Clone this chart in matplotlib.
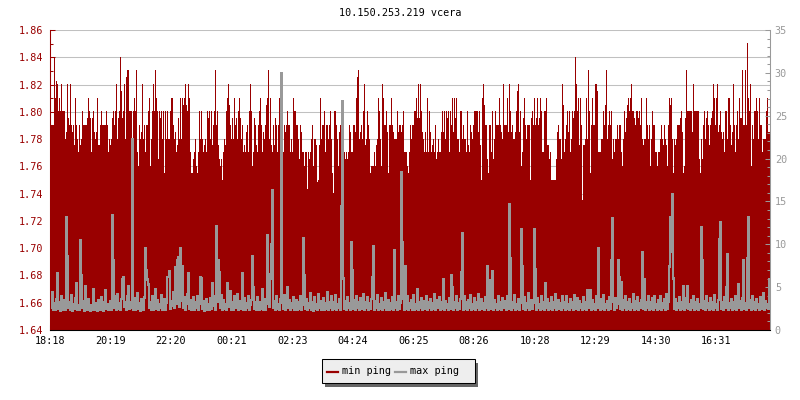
import numpy as np
import matplotlib
matplotlib.use("Agg")
import matplotlib.pyplot as plt
from matplotlib.patches import Rectangle
from matplotlib.lines import Line2D

###############################################################################
# data: one sample per 2 minutes, starting 18:18
title = "10.150.253.219 vcera"
series_names = ["min ping", "max ping"]

time_labels = ["18:18", "20:19", "22:20", "00:21", "02:23", "04:24",
               "06:25", "08:26", "10:28", "12:29", "14:30", "16:31"]
left_ticks = [1.64, 1.66, 1.68, 1.70, 1.72, 1.74, 1.76, 1.78, 1.80, 1.82, 1.84, 1.86]
right_ticks = [0, 5, 10, 15, 20, 25, 30, 35]
sample_minutes = 2

# min ping (ms), left axis
min_ping = [
    1.79, 1.79, 1.79, 1.79, 1.84, 1.81, 1.822, 1.82, 1.80, 1.81,
    1.80, 1.82, 1.80, 1.80, 1.80, 1.78, 1.785, 1.82, 1.795, 1.79,
    1.82, 1.79, 1.785, 1.79, 1.775, 1.81, 1.79, 1.78, 1.77, 1.79,
    1.775, 1.78, 1.80, 1.79, 1.79, 1.79, 1.79, 1.795, 1.81, 1.80,
    1.795, 1.77, 1.795, 1.80, 1.785, 1.78, 1.785, 1.81, 1.775, 1.775,
    1.79, 1.80, 1.79, 1.79, 1.79, 1.79, 1.80, 1.79, 1.77, 1.78,
    1.775, 1.78, 1.795, 1.80, 1.79, 1.80, 1.82, 1.78, 1.795, 1.80,
    1.84, 1.815, 1.795, 1.80, 1.82, 1.78, 1.825, 1.83, 1.83, 1.80,
    1.80, 1.80, 1.78, 1.80, 1.81, 1.80, 1.83, 1.77, 1.76, 1.79,
    1.78, 1.785, 1.82, 1.78, 1.79, 1.77, 1.79, 1.79, 1.80, 1.81,
    1.76, 1.78, 1.80, 1.82, 1.80, 1.83, 1.81, 1.80, 1.765, 1.80,
    1.795, 1.80, 1.78, 1.80, 1.755, 1.80, 1.78, 1.80, 1.78, 1.78,
    1.80, 1.81, 1.81, 1.79, 1.78, 1.785, 1.77, 1.775, 1.795, 1.78,
    1.81, 1.78, 1.81, 1.805, 1.81, 1.82, 1.805, 1.80, 1.82, 1.81,
    1.77, 1.755, 1.755, 1.765, 1.77, 1.78, 1.76, 1.755, 1.77, 1.80,
    1.78, 1.80, 1.78, 1.77, 1.775, 1.78, 1.77, 1.80, 1.795, 1.80,
    1.78, 1.80, 1.775, 1.79, 1.80, 1.83, 1.79, 1.80, 1.775, 1.765,
    1.76, 1.765, 1.75, 1.77, 1.78, 1.775, 1.80, 1.81, 1.82, 1.805,
    1.79, 1.78, 1.795, 1.78, 1.81, 1.79, 1.795, 1.78, 1.80, 1.81,
    1.795, 1.78, 1.79, 1.77, 1.775, 1.77, 1.785, 1.79, 1.77, 1.80,
    1.82, 1.80, 1.76, 1.77, 1.795, 1.79, 1.775, 1.77, 1.79, 1.80,
    1.81, 1.79, 1.77, 1.785, 1.78, 1.79, 1.805, 1.81, 1.83, 1.78,
    1.81, 1.775, 1.77, 1.79, 1.775, 1.795, 1.79, 1.77, 1.79, 1.81,
    1.77, 1.77, 1.77, 1.77, 1.79, 1.785, 1.79, 1.80, 1.79, 1.79,
    # 02:18 ->
    1.77, 1.78, 1.77, 1.81, 1.80, 1.80, 1.79, 1.79, 1.78, 1.765,
    1.79, 1.785, 1.77, 1.77, 1.76, 1.77, 1.77, 1.743, 1.77, 1.765,
    1.77, 1.78, 1.79, 1.76, 1.78, 1.78, 1.775, 1.748, 1.75, 1.775,
    1.81, 1.78, 1.79, 1.79, 1.80, 1.77, 1.79, 1.79, 1.78, 1.79,
    1.80, 1.78, 1.755, 1.74, 1.80, 1.80, 1.79, 1.78, 1.76, 1.785,
    1.79, 1.78, 1.77, 1.79, 1.77, 1.765, 1.77, 1.765, 1.77, 1.79,
    1.785, 1.77, 1.77, 1.79, 1.79, 1.785, 1.81, 1.825, 1.83, 1.78,
    1.785, 1.79, 1.78, 1.80, 1.82, 1.775, 1.78, 1.80, 1.79, 1.78,
    1.755, 1.76, 1.76, 1.76, 1.77, 1.76, 1.775, 1.78, 1.81, 1.80,
    1.78, 1.76, 1.82, 1.81, 1.79, 1.79, 1.80, 1.785, 1.755, 1.79,
    1.79, 1.81, 1.79, 1.785, 1.78, 1.78, 1.78, 1.80, 1.785, 1.79,
    1.79, 1.785, 1.79, 1.80, 1.77, 1.77, 1.77, 1.76, 1.755, 1.77,
    1.79, 1.78, 1.79, 1.79, 1.80, 1.80, 1.81, 1.795, 1.82, 1.795,
    1.82, 1.80, 1.785, 1.78, 1.77, 1.785, 1.77, 1.81, 1.77, 1.80,
    1.785, 1.77, 1.775, 1.78, 1.77, 1.79, 1.765, 1.77, 1.78, 1.77,
    1.77, 1.785, 1.80, 1.785, 1.80, 1.78, 1.80, 1.795, 1.80, 1.77,
    1.80, 1.79, 1.81, 1.785, 1.81, 1.795, 1.81, 1.78, 1.78, 1.77,
    1.80, 1.80, 1.78, 1.79, 1.78, 1.78, 1.77, 1.80, 1.775, 1.77,
    1.79, 1.785, 1.78, 1.79, 1.80, 1.80, 1.80, 1.80, 1.785, 1.80,
    1.775, 1.75, 1.81, 1.82, 1.805, 1.79, 1.79, 1.765, 1.755, 1.79,
    1.79, 1.77, 1.80, 1.765, 1.78, 1.80, 1.79, 1.79, 1.79, 1.81,
    1.79, 1.785, 1.78, 1.82, 1.79, 1.79, 1.79, 1.81, 1.785, 1.82,
    1.80, 1.785, 1.79, 1.78, 1.78, 1.785, 1.80, 1.815, 1.82, 1.785,
    1.80, 1.76, 1.77, 1.795, 1.81, 1.79, 1.78, 1.79, 1.79, 1.79,
    # 10:18 ->
    1.75, 1.795, 1.80, 1.79, 1.81, 1.79, 1.795, 1.81, 1.79, 1.795,
    1.81, 1.80, 1.77, 1.77, 1.80, 1.80, 1.81, 1.775, 1.775, 1.765,
    1.77, 1.75, 1.75, 1.75, 1.75, 1.75, 1.765, 1.785, 1.79, 1.78,
    1.78, 1.765, 1.82, 1.805, 1.77, 1.78, 1.79, 1.80, 1.785, 1.80,
    1.77, 1.78, 1.80, 1.795, 1.80, 1.84, 1.82, 1.80, 1.81, 1.775,
    1.81, 1.79, 1.735, 1.775, 1.775, 1.78, 1.81, 1.78, 1.83, 1.80,
    1.755, 1.79, 1.81, 1.79, 1.79, 1.82, 1.82, 1.815, 1.77, 1.77,
    1.77, 1.78, 1.78, 1.80, 1.79, 1.805, 1.83, 1.78, 1.79, 1.80,
    1.79, 1.80, 1.765, 1.78, 1.77, 1.78, 1.78, 1.79, 1.78, 1.79,
    1.79, 1.77, 1.76, 1.78, 1.80, 1.785, 1.795, 1.805, 1.81, 1.80,
    1.81, 1.82, 1.80, 1.80, 1.795, 1.79, 1.80, 1.80, 1.795, 1.80,
    1.79, 1.81, 1.78, 1.775, 1.78, 1.78, 1.81, 1.79, 1.78, 1.79,
    1.76, 1.78, 1.80, 1.79, 1.79, 1.77, 1.77, 1.76, 1.77, 1.77,
    1.78, 1.79, 1.78, 1.775, 1.79, 1.78, 1.775, 1.76, 1.79, 1.81,
    1.805, 1.81, 1.78, 1.755, 1.78, 1.775, 1.78, 1.79, 1.79, 1.79,
    1.795, 1.80, 1.785, 1.755, 1.76, 1.795, 1.83, 1.80, 1.80, 1.80,
    1.80, 1.80, 1.785, 1.82, 1.80, 1.80, 1.80, 1.80, 1.80, 1.765,
    1.755, 1.78, 1.765, 1.79, 1.80, 1.78, 1.795, 1.80, 1.79, 1.775,
    1.79, 1.795, 1.80, 1.82, 1.81, 1.79, 1.81, 1.82, 1.785, 1.79,
    1.80, 1.785, 1.78, 1.785, 1.77, 1.80, 1.80, 1.78, 1.81, 1.81,
    1.79, 1.775, 1.785, 1.82, 1.79, 1.77, 1.79, 1.80, 1.78, 1.81,
    1.795, 1.795, 1.83, 1.79, 1.79, 1.83, 1.79, 1.85, 1.81, 1.80,
    1.82, 1.76, 1.79, 1.78, 1.80, 1.80, 1.81, 1.80, 1.78, 1.81,
    1.79, 1.79, 1.77, 1.78, 1.78, 1.78, 1.80, 1.81, 1.785, 1.785,
]

# max ping (ms), right axis
max_ping = [
    3.8, 2.6, 4.4, 2.3, 3.1, 2.4, 3.6, 6.6, 2.5, 3.2, 2.2, 3.9, 2.7, 2.4, 3.5, 2.3, 13.2, 8.6, 2.6, 3.3,
    2.4, 4.1, 2.2, 3.0, 2.5, 3.7, 5.5, 2.3, 2.9, 2.4, 10.5, 6.4, 2.6, 3.4, 2.2, 5.1, 2.8, 2.3, 3.6, 2.5,
    2.2, 2.9, 2.4, 4.8, 2.3, 3.1, 2.5, 2.2, 3.5, 2.7, 2.3, 3.8, 2.4, 2.2, 3.2, 4.7, 2.5, 3.0, 2.3, 2.6,
    3.4, 2.4, 13.4, 8.2, 2.6, 3.9, 2.3, 4.2, 2.5, 3.1, 2.4, 3.6, 5.9, 6.2, 2.7, 3.3, 2.3, 4.0, 5.1, 2.5,
    3.2, 2.6, 22.3, 2.4, 3.7, 2.3, 2.9, 4.3, 2.5, 3.1, 2.2, 3.6, 2.7, 2.4, 3.8, 9.6, 7.0, 5.9, 5.3, 2.6,
    3.3, 2.4, 3.9, 2.3, 2.8, 4.8, 2.5, 3.5, 2.3, 3.0, 2.6, 4.1, 2.4, 2.9, 3.6, 2.3, 3.2, 6.2, 6.2, 6.9,
    2.5, 3.4, 2.8, 4.4, 2.6, 7.3, 3.0, 8.2, 8.5, 2.7, 9.6, 3.4, 7.4, 2.6, 3.8, 2.4, 3.1, 4.2, 6.6, 2.5,
    3.5, 2.3, 2.9, 3.8, 2.4, 3.2, 2.6, 4.0, 2.3, 3.1, 6.2, 6.1, 2.5, 3.4, 2.2, 2.9, 3.6, 2.4, 3.0, 2.3,
    3.7, 2.5, 5.5, 2.8, 3.9, 2.4, 12.1, 3.3, 8.2, 6.8, 2.6, 4.1, 2.3, 3.5, 2.5, 3.0, 2.4, 5.5, 2.7, 3.8,
    4.5, 2.4, 3.2, 2.3, 3.9, 2.6, 2.9, 4.2, 2.4, 3.4, 2.5, 3.0, 6.6, 2.4, 3.7, 2.3, 3.1, 2.6, 4.0, 2.4,
    2.9, 3.5, 8.6, 5.0, 2.5, 3.2, 2.3, 3.8, 2.6, 2.4, 3.3, 2.5, 4.8, 2.4, 3.6, 2.3, 3.1, 11.1, 6.5, 2.7,
    6.0, 10.0, 16.3, 2.6, 3.4, 2.3, 3.9, 2.5, 3.0, 2.4, 3.6, 30.0, 3.2, 2.5, 4.1, 2.3, 2.9, 5.0, 2.6, 3.5,
    2.4, 3.1, 2.6, 3.8, 2.3, 2.8, 3.5, 2.4, 3.2, 2.5, 4.0, 2.3, 2.9, 10.7, 6.4, 2.5, 3.6, 2.3, 3.1, 2.6,
    4.3, 2.4, 3.3, 2.2, 3.8, 2.5, 3.0, 2.4, 4.2, 2.6, 3.4, 2.3, 2.9, 3.7, 2.4, 3.1, 2.5, 4.4, 2.3, 3.2,
    2.6, 3.9, 2.4, 3.3, 2.5, 4.1, 2.3, 3.0, 2.6, 3.6, 2.4, 14.4, 26.7, 6.0, 2.5, 3.4, 2.3, 3.8, 2.6, 3.1,
    2.4, 10.3, 7.0, 2.5, 3.5, 2.3, 4.0, 2.6, 3.2, 2.4, 3.7, 2.5, 2.9, 4.2, 2.4, 3.3, 2.6, 3.8, 2.3, 3.1,
    2.5, 3.6, 6.2, 9.8, 2.4, 3.4, 2.6, 4.1, 2.3, 3.0, 2.5, 3.7, 2.4, 3.2, 2.6, 4.3, 2.4, 2.9, 3.5, 2.3,
    3.1, 2.5, 3.8, 2.4, 9.3, 2.6, 3.3, 2.3, 4.0, 2.5, 3.2, 18.4, 10.3, 3.6, 2.4, 7.4, 2.5, 3.9, 2.3, 3.1,
    2.6, 3.5, 2.4, 4.1, 2.3, 3.0, 2.5, 4.8, 2.4, 3.3, 2.6, 3.7, 2.3, 2.9, 3.4, 2.5, 4.0, 2.4, 3.2, 2.6,
    3.6, 2.3, 3.1, 2.5, 4.2, 2.4, 2.9, 3.5, 2.6, 3.8, 2.3, 3.2, 2.5, 5.9, 2.4, 3.4, 2.6, 3.0, 2.3, 3.7,
    2.5, 6.4, 5.0, 2.4, 3.3, 2.6, 4.0, 2.3, 3.1, 2.5, 3.6, 6.8, 11.3, 2.4, 3.9, 2.5, 3.2, 2.3, 3.5, 2.6,
    4.1, 2.4, 3.0, 2.5, 3.7, 2.3, 3.3, 2.6, 4.2, 2.4, 2.9, 3.6, 2.5, 3.1, 2.3, 3.8, 2.6, 7.4, 2.4, 3.4,
    5.8, 2.5, 6.9, 2.3, 3.5, 2.6, 3.0, 2.4, 4.0, 2.5, 3.2, 2.3, 3.7, 2.6, 2.9, 3.4, 2.4, 3.9, 2.5, 14.7,
    8.4, 2.4, 3.3, 2.6, 4.1, 2.3, 3.0, 2.5, 3.6, 2.4, 3.2, 11.8, 7.4, 2.5, 3.8, 2.3, 3.1, 2.6, 4.3, 2.4,
    2.9, 3.5, 2.5, 3.2, 11.8, 7.1, 2.4, 3.7, 2.6, 3.0, 2.3, 4.0, 2.5, 3.3, 2.4, 5.5, 2.6, 3.6, 2.3, 3.1,
    2.5, 3.8, 2.4, 3.2, 2.6, 4.2, 2.3, 2.9, 3.5, 2.5, 3.1, 2.4, 3.9, 2.6, 3.3, 2.3, 4.0, 2.5, 3.0, 2.4,
    3.6, 2.6, 3.2, 2.3, 4.1, 2.5, 2.9, 3.7, 2.4, 3.4, 2.6, 3.0, 2.3, 3.8, 2.5, 3.3, 2.4, 4.7, 2.6, 3.1,
    4.6, 2.4, 3.5, 2.5, 3.0, 2.3, 3.9, 2.6, 9.5, 3.2, 2.4, 3.6, 2.5, 4.1, 2.3, 3.0, 2.6, 3.4, 2.4, 3.8,
    2.5, 8.2, 13.0, 3.3, 2.4, 3.7, 2.6, 3.1, 8.2, 6.2, 2.5, 5.6, 2.4, 3.5, 2.6, 4.0, 2.3, 3.2, 2.5, 3.6,
    2.4, 3.0, 2.6, 4.2, 2.3, 3.4, 2.5, 3.8, 2.4, 3.1, 2.6, 3.5, 9.1, 2.5, 5.9, 2.4, 3.3, 2.6, 3.9, 2.3,
    3.2, 2.5, 3.7, 2.4, 4.0, 2.6, 3.0, 2.3, 3.5, 2.5, 3.9, 2.4, 3.1, 2.6, 3.6, 2.3, 4.2, 2.5, 3.3, 7.4,
    13.2, 9.1, 15.9, 6.0, 2.5, 3.6, 2.4, 3.1, 2.6, 3.8, 2.3, 3.3, 2.5, 5.1, 2.4, 3.7, 2.6, 5.1, 2.5, 3.0,
    2.4, 3.5, 2.6, 4.0, 2.3, 3.2, 2.5, 3.6, 2.4, 3.0, 2.6, 12.0, 8.2, 2.5, 3.4, 2.3, 3.9, 2.6, 3.1, 2.4,
    3.7, 2.5, 3.2, 2.4, 4.1, 2.6, 3.0, 2.3, 3.5, 10.6, 12.6, 2.5, 3.3, 2.4, 3.8, 2.6, 5.0, 8.9, 2.4, 3.1,
    2.6, 3.6, 2.3, 3.2, 2.5, 4.0, 2.4, 3.0, 5.4, 2.6, 3.4, 2.3, 3.7, 8.1, 2.5, 3.1, 2.4, 8.4, 13.2, 2.6,
    3.5, 2.3, 3.9, 2.5, 3.2, 2.4, 3.6, 2.6, 3.0, 2.4, 3.8, 2.5, 3.1, 4.3, 2.4, 3.4, 2.6, 3.0, 2.5, 5.9,
]

###############################################################################
RED = "#990000"
GRAY = "#999999"
FONT = "DejaVu Sans Mono"
FS = 7.3

plt.rcParams["font.family"] = FONT


def label_minutes(lbl, start):
    h, m = lbl.split(":")
    return (int(h) * 60 + int(m) - start) % 1440


start = label_minutes(time_labels[0], 0)
tick_pos = [label_minutes(l, start) for l in time_labels]

fig = plt.figure(figsize=(8, 4), dpi=100)
ax = fig.add_axes([50 / 800, 70 / 400, 720 / 800, 300 / 400])
ax2 = ax.twinx()

edges_min = np.arange(len(min_ping) + 1) * sample_minutes
edges_max = np.arange(len(max_ping) + 1) * sample_minutes

ax.stairs(min_ping, edges_min, baseline=1.64, fill=True, color=RED,
          linewidth=0, antialiased=False, zorder=2)
ax2.stairs(max_ping, edges_max, baseline=None, color=GRAY,
           linewidth=1.0, antialiased=False)

ax.set_xlim(0, 1440)
ax.set_ylim(1.64, 1.86)
ax2.set_ylim(0, 35)

# grid
ax.set_axisbelow(True)
ax.yaxis.grid(True, color="#c0c0c0", linewidth=0.75)
ax.xaxis.grid(False)

# left axis
ax.set_yticks(left_ticks)
ax.set_yticklabels(["%.2f" % v for v in left_ticks])
ax.set_yticks([v + 0.01 for v in left_ticks[:-1]], minor=True)
ax.tick_params(axis="y", which="major", direction="in", length=3.6, width=0.75,
               color=RED, labelcolor=RED, labelsize=FS, pad=4.5)
ax.tick_params(axis="y", which="minor", direction="in", length=2.2, width=0.75,
               color=RED)

# right axis
ax2.set_yticks(right_ticks)
ax2.set_yticks([v for v in range(0, 36) if v % 5 != 0], minor=True)
ax2.tick_params(axis="y", which="major", direction="in", length=3.6, width=0.75,
                color=GRAY, labelcolor=GRAY, labelsize=FS, pad=3.5)
ax2.tick_params(axis="y", which="minor", direction="in", length=2.2, width=0.75,
                color=GRAY)

# time axis
ax.set_xticks(tick_pos)
ax.set_xticklabels(time_labels)
ax.tick_params(axis="x", direction="in", length=3.6, width=0.75, color="black",
               labelsize=FS, pad=4.5)

for a in (ax, ax2):
    a.spines["top"].set_visible(False)
    a.spines["left"].set_color(RED)
    a.spines["right"].set_color(GRAY)
    a.spines["bottom"].set_color("black")
    for s in a.spines.values():
        s.set_linewidth(0.75)

fig.text(0.5, 1 - 13 / 400, title, ha="center", va="center", fontsize=FS)

# legend box with shadow
def px(x, y):
    return x / 800, 1 - y / 400

fig.patches.append(Rectangle(px(325, 387), 153 / 800, 24 / 400, transform=fig.transFigure,
                             facecolor="#666666", edgecolor="none", zorder=5))
fig.patches.append(Rectangle(px(322, 383), 153 / 800, 24 / 400, transform=fig.transFigure,
                             facecolor="#eeeeee", edgecolor="black", linewidth=0.75, zorder=6))
for (x0, c, name) in [(327, RED, series_names[0]), (395, GRAY, series_names[1])]:
    fig.lines.append(Line2D([x0 / 800, (x0 + 11) / 800], [1 - 371.5 / 400] * 2,
                            transform=fig.transFigure, color=c, linewidth=1.6, zorder=7))
    fig.text((x0 + 15) / 800, 1 - 371 / 400, name, ha="left", va="center",
             fontsize=FS, zorder=8)

fig.savefig("out.png", dpi=100, facecolor="white")
